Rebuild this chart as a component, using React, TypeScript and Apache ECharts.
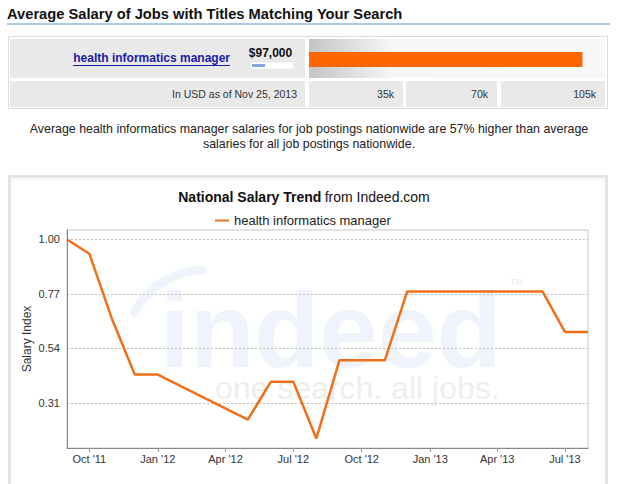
import React, { useEffect, useRef } from 'react';
import * as echarts from 'echarts';

// ---- data ----
const trendMonths = [
  '2011-09', '2011-10', '2011-11', '2011-12', '2012-01', '2012-05', '2012-06', '2012-07',
  '2012-08', '2012-09', '2012-10', '2012-11', '2012-12', '2013-01', '2013-02', '2013-03',
  '2013-04', '2013-05', '2013-06', '2013-07', '2013-08',
];
const trendValues = [
  1.0, 0.94, 0.66, 0.43, 0.43, 0.24, 0.4, 0.4,
  0.16, 0.49, 0.49, 0.49, 0.78, 0.78, 0.78, 0.78,
  0.78, 0.78, 0.78, 0.61, 0.61,
];
const quarterTicks = ['2011-10', '2012-01', '2012-04', '2012-07', '2012-10', '2013-01', '2013-04', '2013-07'];
const yTicks = [0.31, 0.54, 0.77, 1.0];
const jobTitles = ['health informatics manager'];
const salaryValues = [97000];
const salaryLabel = '$97,000';
const salaryScaleLabels = ['35k', '70k', '105k'];
const asOfLabel = 'In USD as of Nov 25, 2013';

const MONTHS = ['Jan', 'Feb', 'Mar', 'Apr', 'May', 'Jun', 'Jul', 'Aug', 'Sep', 'Oct', 'Nov', 'Dec'];
const toTime = (s: string) => {
  const [y, m] = s.split('-').map(Number);
  return new Date(y, m - 1, 1).getTime();
};

const FONT = '"Liberation Sans", Arial, sans-serif';
const ORANGE = '#f0701a';

export default function App() {
  const ref = useRef<HTMLDivElement>(null);

  useEffect(() => {
    if (!ref.current) return;
    const chart = echarts.init(ref.current, undefined, { renderer: 'svg' });

    const lineData = trendMonths.map((m, i) => [toTime(m), trendValues[i]]);
    const tickTimes = quarterTicks.map(toTime);

    const scaleCells = [
      { x: 309, w: 94 },
      { x: 406, w: 91 },
      { x: 501, w: 104 },
    ];

    const graphic: any[] = [
      {
        type: 'text', x: 7, y: 14,
        style: { text: 'Average Salary of Jobs with Titles Matching Your Search', font: `bold 14.7px ${FONT}`, fill: '#111', verticalAlign: 'middle' },
      },
      { type: 'rect', shape: { x: 7, y: 23, width: 603, height: 2 }, style: { fill: '#a9cde6' } },
      { type: 'rect', z: -5, shape: { x: 8.5, y: 36.5, width: 599, height: 72 }, style: { fill: '#fff', stroke: '#dcdcdc', lineWidth: 1 } },
      { type: 'rect', z: -4, shape: { x: 10, y: 39, width: 295, height: 39 }, style: { fill: '#e9e9e9' } },
      {
        type: 'rect', z: -4, shape: { x: 309, y: 39, width: 296, height: 39 },
        style: {
          fill: new echarts.graphic.LinearGradient(0, 0, 1, 0, [
            { offset: 0, color: '#c4c4c4' },
            { offset: 0.28, color: '#f6f6f6' },
            { offset: 1, color: '#f7f7f7' },
          ]),
        },
      },
      { type: 'rect', z: -4, shape: { x: 10, y: 81, width: 295, height: 26 }, style: { fill: '#e9e9e9' } },
      ...scaleCells.map((c) => ({ type: 'rect', z: -4, shape: { x: c.x, y: 81, width: c.w, height: 26 }, style: { fill: '#e9e9e9' } })),
      ...scaleCells.map((c, i) => ({
        type: 'text', x: c.x + c.w - 9, y: 94,
        style: { text: salaryScaleLabels[i], font: `10.5px ${FONT}`, fill: '#333', align: 'right', verticalAlign: 'middle' },
      })),
      {
        type: 'text', x: 297, y: 94,
        style: { text: asOfLabel, font: `10.5px ${FONT}`, fill: '#333', align: 'right', verticalAlign: 'middle' },
      },
      {
        type: 'text', x: 230, y: 58,
        style: { text: jobTitles[0], font: `bold 12px ${FONT}`, fill: '#1c1ca6', align: 'right', verticalAlign: 'middle' },
      },
      { type: 'rect', shape: { x: 73, y: 65, width: 157, height: 1 }, style: { fill: '#1c1ca6' } },
      {
        type: 'text', x: 270.5, y: 52.5,
        style: { text: salaryLabel, font: `bold 12px ${FONT}`, fill: '#111', align: 'center', verticalAlign: 'middle' },
      },
      { type: 'rect', shape: { x: 251, y: 62.5, width: 42, height: 6 }, style: { fill: '#fff' } },
      { type: 'rect', shape: { x: 252, y: 64, width: 13, height: 3 }, style: { fill: '#8aa4d8' } },
      {
        type: 'text', x: 309, y: 136.5,
        style: {
          text: 'Average health informatics manager salaries for job postings nationwide are 57% higher than average\nsalaries for all job postings nationwide.',
          font: `12.4px ${FONT}`, fill: '#222', align: 'center', verticalAlign: 'middle', lineHeight: 15,
        },
      },
      { type: 'rect', z: -5, shape: { x: 9.5, y: 176.5, width: 597, height: 320 }, style: { fill: 'none', stroke: '#e4e4e4', lineWidth: 3 } },
      { type: 'rect', z: -5, shape: { x: 12.5, y: 179.5, width: 591, height: 320 }, style: { fill: 'none', stroke: '#f3f3f3', lineWidth: 1 } },
      {
        type: 'text', x: 304, y: 197,
        style: {
          text: '{b|National Salary Trend} {n|from Indeed.com}',
          align: 'center', verticalAlign: 'middle',
          rich: {
            b: { font: `bold 14px ${FONT}`, fill: '#111' },
            n: { font: `14px ${FONT}`, fill: '#111' },
          },
        },
      },
      // watermark logo as a single two-line text
      {
        type: 'text', x: 160, y: 290, z: -2,
        style: {
          text: '{a|indeed}\n{b|one search. all jobs.}',
          align: 'left', verticalAlign: 'top',
          rich: {
            a: { font: `bold 106px ${FONT}`, fill: '#eef3fc', lineHeight: 80 },
            b: { font: `32px ${FONT}`, fill: '#eeeeee', lineHeight: 35, padding: [0, 0, 0, 55] },
          },
        },
      },
      {
        type: 'arc', z: -2,
        shape: { cx: 205, cy: 350, r: 80, startAngle: (208 * Math.PI) / 180, endAngle: (268 * Math.PI) / 180, clockwise: true },
        style: { stroke: '#eef3fc', lineWidth: 9, fill: 'none', lineCap: 'round' },
      },
      {
        type: 'text', x: 510, y: 282, z: -2,
        style: { text: 'TM', font: `9px ${FONT}`, fill: '#ececec', verticalAlign: 'middle' },
      },
    ];

    const option: any = {
      animation: false,
      textStyle: { fontFamily: FONT },
      grid: [
        { left: 67, top: 230, right: 33, bottom: 36, show: true, borderColor: '#c6c6c6', borderWidth: 1, backgroundColor: 'transparent' },
        { left: 309, top: 52, width: 296, height: 15 },
      ],
      xAxis: [
        {
          type: 'value', gridIndex: 0, scale: true,
          min: toTime(trendMonths[0]), max: toTime(trendMonths[trendMonths.length - 1]),
          axisLine: { show: true, lineStyle: { color: '#888', width: 1 } },
          axisTick: { show: true, length: 4, lineStyle: { color: '#999' }, customValues: tickTimes },
          axisLabel: {
            customValues: tickTimes,
            formatter: (v: number) => {
              const d = new Date(v);
              return `${MONTHS[d.getMonth()]} '${String(d.getFullYear()).slice(2)}`;
            },
            color: '#333', fontSize: 11, margin: 5, hideOverlap: false,
          },
          splitLine: { show: false },
        },
        { type: 'value', gridIndex: 1, min: 0, max: 105000, show: false },
      ],
      yAxis: [
        {
          type: 'value', gridIndex: 0, min: 0.12, max: 1.04,
          name: 'Salary Index', nameLocation: 'middle', nameGap: 34, nameMoveOverlap: false,
          nameTextStyle: { fontSize: 12, color: '#333' },
          axisLine: { show: true, lineStyle: { color: '#888', width: 1 } },
          axisTick: { show: false, customValues: yTicks },
          axisLabel: { customValues: yTicks, formatter: (v: number) => v.toFixed(2), fontSize: 11, color: '#333', margin: 7 },
          splitLine: { show: true, lineStyle: { color: '#bdbdbd', type: [2, 2], width: 1 } },
        },
        { type: 'category', gridIndex: 1, data: jobTitles, show: false },
      ],
      legend: {
        data: [jobTitles[0]], left: 210, top: 209, icon: 'rect', itemWidth: 14, itemHeight: 2,
        textStyle: { fontSize: 13, color: '#222' }, selectedMode: false,
      },
      series: [
        {
          type: 'line', name: jobTitles[0], xAxisIndex: 0, yAxisIndex: 0, data: lineData,
          symbol: 'none', showSymbol: false,
          lineStyle: { color: ORANGE, width: 2.5 }, itemStyle: { color: ORANGE }, z: 3,
        },
        {
          type: 'bar', name: 'salary', xAxisIndex: 1, yAxisIndex: 1, data: salaryValues,
          barWidth: 15, itemStyle: { color: '#ff6600' }, silent: true,
        },
      ],
      graphic,
    };

    chart.setOption(option);
    return () => chart.dispose();
  }, []);

  return <div ref={ref} style={{ position: 'absolute', left: 0, top: 0, width: 621, height: 484 }} />;
}
